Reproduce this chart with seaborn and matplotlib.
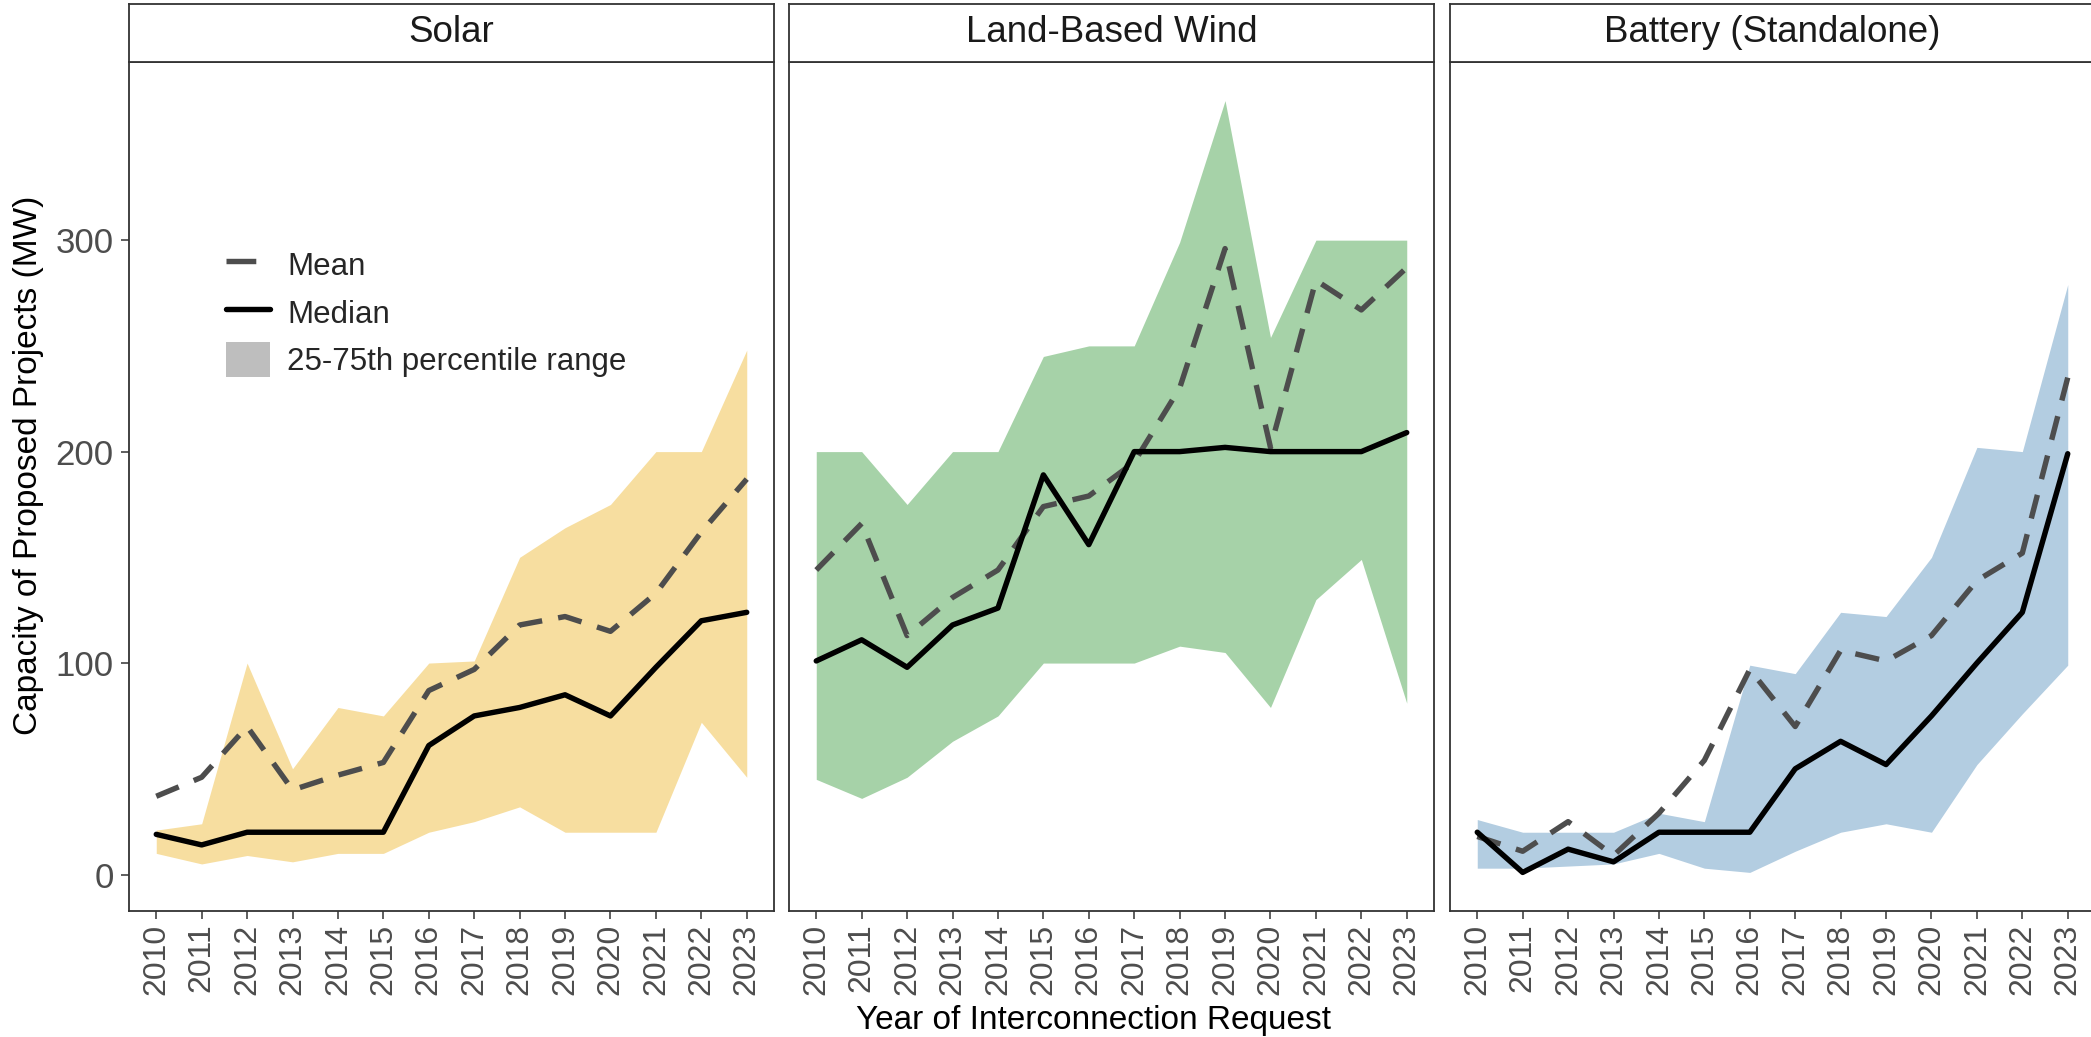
"""
Capacity of proposed projects by year of interconnection request.
Three facets (solar, land-based wind, standalone battery): mean, median and 25-75th band.
Output: out.png
"""

import matplotlib
matplotlib.use("Agg")
import matplotlib.pyplot as plt
import seaborn as sns
from matplotlib.lines import Line2D
from matplotlib.patches import Patch

YEARS = [2010, 2011, 2012, 2013, 2014, 2015, 2016, 2017, 2018, 2019, 2020, 2021, 2022, 2023]
PANELS = ["Solar", "Land-Based Wind", "Battery (Standalone)"]

solar_p25 = [10, 5, 9, 6, 10, 10, 20, 25, 32, 20, 20, 20, 72, 46]
solar_p75 = [21, 24, 100, 50, 79, 75, 100, 101, 150, 164, 175, 200, 200, 248]
solar_median = [19, 14, 20, 20, 20, 20, 61, 75, 79, 85, 75, 98, 120, 124]
solar_mean = [37, 46, 70, 40, 47, 53, 87, 97, 118, 122, 115, 133, 162, 187]

wind_p25 = [45, 36, 46, 63, 75, 100, 100, 100, 108, 105, 79, 130, 149, 81]
wind_p75 = [200, 200, 175, 200, 200, 245, 250, 250, 299, 366, 254, 300, 300, 300]
wind_median = [101, 111, 98, 118, 126, 189, 156, 200, 200, 202, 200, 200, 200, 209]
wind_mean = [144, 166, 113, 131, 144, 174, 179, 195, 230, 296, 202, 281, 267, 287]

battery_p25 = [3, 3, 4, 5, 10, 3, 1, 11, 20, 24, 20, 52, 76, 99]
battery_p75 = [26, 20, 20, 20, 29, 25, 99, 95, 124, 122, 150, 202, 200, 279]
battery_median = [20, 1, 12, 6, 20, 20, 20, 50, 63, 52, 75, 100, 124, 199]
battery_mean = [18, 11, 25, 9, 29, 54, 97, 70, 106, 101, 113, 139, 152, 235]

FILLS = ["#F7DEA0", "#A6D2A8", "#B3CDE1"]
DATA = [
    (solar_p25, solar_p75, solar_median, solar_mean),
    (wind_p25, wind_p75, wind_median, wind_mean),
    (battery_p25, battery_p75, battery_median, battery_mean),
]

sns.set_theme(style="white")
plt.rcParams["font.family"] = ["Liberation Sans", "DejaVu Sans"]

W, H = 2091, 1037
fig = plt.figure(figsize=(W / 100, H / 100), dpi=100)

panel_left = [129, 789, 1450]
panel_w = 645
panel_top, panel_bot, strip_top = 62, 911, 4
edge = "#333333"
txt_gray = "#4D4D4D"
lw = 3.9
dash = (0, (4.5, 3.0))

all_vals = [v for grp in DATA for s in grp for v in s]
lo, hi = min(all_vals), max(all_vals)
pad = 0.05 * (hi - lo)

for i, (name, (p25, p75, med, mean)) in enumerate(zip(PANELS, DATA)):
    l = panel_left[i]
    ax = fig.add_axes([l / W, 1 - panel_bot / H, panel_w / W, (panel_bot - panel_top) / H])
    ax.fill_between(YEARS, p25, p75, color=FILLS[i], linewidth=0)
    sns.lineplot(x=YEARS, y=mean, ax=ax, color=txt_gray, linewidth=lw, linestyle=dash)
    sns.lineplot(x=YEARS, y=med, ax=ax, color="black", linewidth=lw)
    ax.set_xlim(YEARS[0] - 0.6, YEARS[-1] + 0.6)
    ax.set_ylim(lo - pad, hi + pad)
    ax.set_xticks(YEARS)
    ax.set_xticklabels([str(y) for y in YEARS], rotation=90, fontsize=23, color=txt_gray)
    ax.set_yticks([0, 100, 200, 300])
    ax.tick_params(axis="both", direction="out", length=6, width=1.1, color=edge,
                   bottom=True, left=(i == 0), pad=3)
    if i == 0:
        ax.set_yticklabels(["0", "100", "200", "300"], fontsize=25, color=txt_gray)
        ax.tick_params(axis="y", pad=5)
    else:
        ax.set_yticklabels([])
    ax.set_xlabel("")
    ax.set_ylabel("")
    ax.grid(False)
    for sp in ax.spines.values():
        sp.set_color(edge)
        sp.set_linewidth(1.3)

    sax = fig.add_axes([l / W, 1 - panel_top / H, panel_w / W, (panel_top - strip_top) / H])
    sax.set_xticks([])
    sax.set_yticks([])
    sax.set_facecolor("white")
    for sp in sax.spines.values():
        sp.set_color(edge)
        sp.set_linewidth(1.3)
    sax.text(0.5, 0.5, name, ha="center", va="center", fontsize=26.5, color="#1A1A1A",
             transform=sax.transAxes)

    if i == 0:
        handles = [
            Line2D([], [], color=txt_gray, linewidth=lw, linestyle=(0, (5.5, 20))),
            Line2D([], [], color="black", linewidth=lw),
            Patch(facecolor="#BEBEBE", edgecolor="none"),
        ]
        ax.legend(handles, ["Mean", "Median", "25-75th percentile range"],
                  loc="upper left", bbox_to_anchor=(226 / W, 1 - 247 / H),
                  bbox_transform=fig.transFigure, frameon=False, fontsize=22.5,
                  handlelength=1.4, handleheight=1.35, handletextpad=0.55,
                  labelspacing=0.4, borderpad=0, borderaxespad=0)

fig.text(1093 / W, 1 - 1020 / H, "Year of Interconnection Request", ha="center", va="center",
         fontsize=24, color="black")
fig.text(29 / W, 1 - 465 / H, "Capacity of Proposed Projects (MW)", ha="center", va="center",
         rotation=90, fontsize=24, color="black")

fig.savefig("out.png", dpi=100)
plt.close(fig)
